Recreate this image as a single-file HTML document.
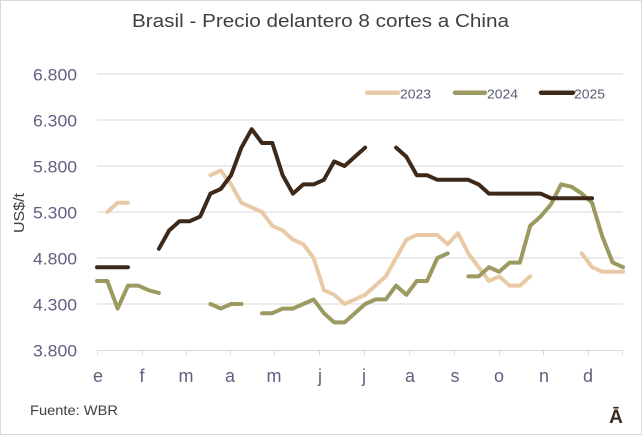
<!DOCTYPE html>
<html>
<head>
<meta charset="utf-8">
<style>
  html, body { margin: 0; padding: 0; background: #ffffff; }
  body { width: 643px; height: 436px; overflow: hidden; }
  svg { display: block; }
  text { font-family: "Liberation Sans", Arial, sans-serif; }
</style>
</head>
<body>
<svg width="643" height="436" viewBox="0 0 643 436" xmlns="http://www.w3.org/2000/svg">
  <rect x="0" y="0" width="643" height="436" fill="#ffffff"/>
  <rect x="0.5" y="0.5" width="641" height="434" fill="none" stroke="#d9d9d9" stroke-width="1"/>

  <!-- Title -->
  <text x="132" y="27" font-size="18.5" fill="#404040" textLength="377" lengthAdjust="spacingAndGlyphs">Brasil - Precio delantero 8 cortes a China</text>

  <!-- Gridlines -->
  <g stroke="#d9d9d9" stroke-width="1">
    <line x1="97" y1="74" x2="623" y2="74"/>
    <line x1="97" y1="120" x2="623" y2="120"/>
    <line x1="97" y1="166" x2="623" y2="166"/>
    <line x1="97" y1="212" x2="623" y2="212"/>
    <line x1="97" y1="258" x2="623" y2="258"/>
    <line x1="97" y1="304" x2="623" y2="304"/>
    <line x1="97" y1="350.5" x2="623" y2="350.5"/>
  </g>
  <!-- X ticks -->
  <g stroke="#d9d9d9" stroke-width="1">
    <line x1="97.5" y1="350" x2="97.5" y2="355"/>
    <line x1="142.5" y1="350" x2="142.5" y2="355"/>
    <line x1="186.5" y1="350" x2="186.5" y2="355"/>
    <line x1="230.5" y1="350" x2="230.5" y2="355"/>
    <line x1="274.5" y1="350" x2="274.5" y2="355"/>
    <line x1="319.5" y1="350" x2="319.5" y2="355"/>
    <line x1="364.5" y1="350" x2="364.5" y2="355"/>
    <line x1="409.5" y1="350" x2="409.5" y2="355"/>
    <line x1="454.5" y1="350" x2="454.5" y2="355"/>
    <line x1="499.5" y1="350" x2="499.5" y2="355"/>
    <line x1="543.5" y1="350" x2="543.5" y2="355"/>
    <line x1="588.5" y1="350" x2="588.5" y2="355"/>
    <line x1="622.5" y1="350" x2="622.5" y2="355"/>
  </g>

  <!-- Y labels -->
  <g font-size="16.5" fill="#5f5f80" text-anchor="end">
    <text x="77" y="80.5" textLength="44" lengthAdjust="spacingAndGlyphs">6.800</text>
    <text x="77" y="126.5" textLength="44" lengthAdjust="spacingAndGlyphs">6.300</text>
    <text x="77" y="172.5" textLength="44" lengthAdjust="spacingAndGlyphs">5.800</text>
    <text x="77" y="218.5" textLength="44" lengthAdjust="spacingAndGlyphs">5.300</text>
    <text x="77" y="264.5" textLength="44" lengthAdjust="spacingAndGlyphs">4.800</text>
    <text x="77" y="310.5" textLength="44" lengthAdjust="spacingAndGlyphs">4.300</text>
    <text x="77" y="356.5" textLength="44" lengthAdjust="spacingAndGlyphs">3.800</text>
  </g>

  <!-- Y axis title -->
  <text transform="translate(24,213) rotate(-90)" font-size="15" fill="#404040" text-anchor="middle" textLength="40" lengthAdjust="spacingAndGlyphs">US$/t</text>

  <!-- X labels -->
  <g font-size="18" fill="#5f5f80" text-anchor="middle">
    <text x="98" y="382">e</text>
    <text x="142" y="382">f</text>
    <text x="186" y="382">m</text>
    <text x="230" y="382">a</text>
    <text x="274" y="382">m</text>
    <text x="320" y="382">j</text>
    <text x="364" y="382">j</text>
    <text x="410" y="382">a</text>
    <text x="455" y="382">s</text>
    <text x="499" y="382">o</text>
    <text x="544" y="382">n</text>
    <text x="588" y="382">d</text>
  </g>

  <!-- Legend -->
  <g stroke-width="4.5" stroke-linecap="round">
    <line x1="367" y1="92.7" x2="398" y2="92.7" stroke="#e9caa6"/>
    <line x1="455" y1="92.7" x2="485" y2="92.7" stroke="#9c9a60"/>
    <line x1="541" y1="92.7" x2="573" y2="92.7" stroke="#3e2919"/>
  </g>
  <g font-size="13" fill="#5a5a70">
    <text x="400" y="98.3" textLength="31" lengthAdjust="spacingAndGlyphs">2023</text>
    <text x="487" y="98.3" textLength="31" lengthAdjust="spacingAndGlyphs">2024</text>
    <text x="574" y="98.3" textLength="31" lengthAdjust="spacingAndGlyphs">2025</text>
  </g>

  <!-- Series 2023 -->
  <g fill="none" stroke="#e9caa6" stroke-width="4" stroke-linejoin="round" stroke-linecap="round">
    <polyline points="107.31,212 117.63,202.8 127.94,202.8"/>
    <polyline points="210.45,175.2 220.77,170.6 231.08,184.4 241.4,202.8 251.71,207.4 262.02,212 272.34,225.8 282.65,230.4 292.97,239.6 303.28,244.2 313.59,258 323.91,290.2 334.22,294.8 344.54,304 354.85,299.4 365.16,294.8 375.48,285.6 385.79,276.4 396.11,258 406.42,239.6 416.73,235 427.05,235 437.36,235 447.68,244.2 457.99,233.2 468.3,253.4 478.62,267.2 488.93,281 499.25,276.4 509.56,285.6 519.87,285.6 530.19,276.4"/>
    <polyline points="581.76,253.4 592.07,267.2 602.39,271.8 612.7,271.8 623,271.8"/>
  </g>

  <!-- Series 2024 -->
  <g fill="none" stroke="#9c9a60" stroke-width="4" stroke-linejoin="round" stroke-linecap="round">
    <polyline points="97,281 107.31,281 117.63,308.6 127.94,285.6 138.26,285.6 148.57,290.2 158.88,293"/>
    <polyline points="210.45,304 220.77,308.6 231.08,304 241.4,304"/>
    <polyline points="262.02,313.2 272.34,313.2 282.65,308.6 292.97,308.6 303.28,304 313.59,299.4 323.91,313.2 334.22,322.4 344.54,322.4 354.85,313.2 365.16,304 375.48,299.4 385.79,299.4 396.11,285.6 406.42,294.8 416.73,281 427.05,281 437.36,258 447.68,253.4"/>
    <polyline points="468.3,276.4 478.62,276.4 488.93,267.2 499.25,271.8 509.56,262.6 519.87,262.6 530.19,225.8 540.5,216.6 550.82,204.6 561.13,184.4 571.44,186.7 581.76,193.6 592.07,202.8 602.39,236.8 612.7,262.6 623,267.2"/>
  </g>

  <!-- Series 2025 -->
  <g fill="none" stroke="#3e2919" stroke-width="4" stroke-linejoin="round" stroke-linecap="round">
    <polyline points="97,267.2 107.31,267.2 117.63,267.2 127.94,267.2"/>
    <polyline points="158.88,248.8 169.2,230.4 179.51,221.2 189.83,221.2 200.14,216.6 210.45,193.6 220.77,189 231.08,175.2 241.4,147.6 251.71,129.2 262.02,143 272.34,143 282.65,175.2 292.97,193.6 303.28,184.4 313.59,184.4 323.91,179.8 334.22,161.4 344.54,166 354.85,156.8 365.16,147.6"/>
    <polyline points="396.11,147.6 406.42,156.8 416.73,175.2 427.05,175.2 437.36,179.8 447.68,179.8 457.99,179.8 468.3,179.8 478.62,184.4 488.93,193.6 499.25,193.6 509.56,193.6 519.87,193.6 530.19,193.6 540.5,193.6 550.82,198.2 561.13,198.2 571.44,198.2 581.76,198.2 592.07,198.2"/>
  </g>

  <!-- Footer -->
  <text x="30" y="415" font-size="14" fill="#404040" textLength="88" lengthAdjust="spacingAndGlyphs">Fuente: WBR</text>

  <!-- Logo -->
  <text x="616" y="423" font-size="19" font-weight="bold" fill="#3a2a1e" text-anchor="middle">Ā</text>
</svg>
</body>
</html>
